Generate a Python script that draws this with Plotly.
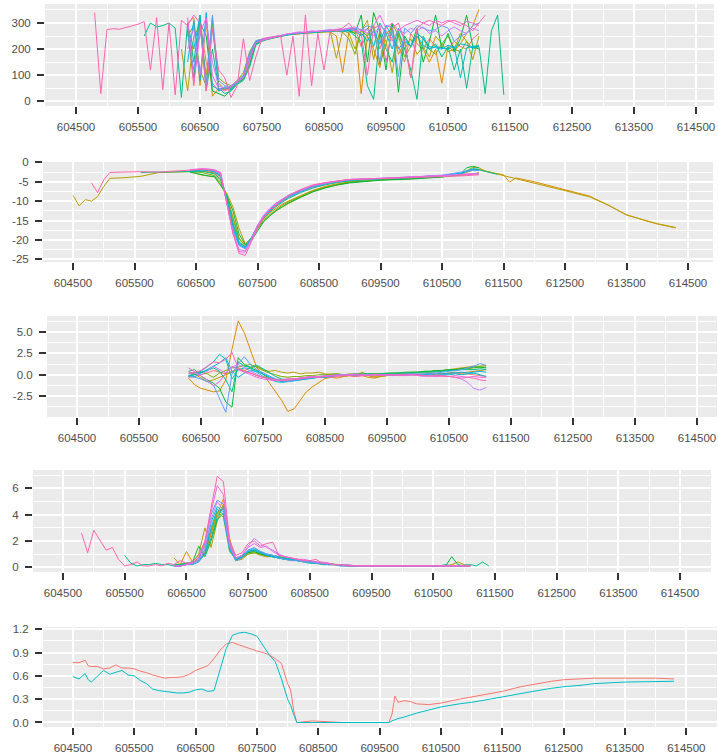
import plotly.graph_objects as go

W, H = 718, 755
HUE = ["#F8766D", "#DE8C00", "#B79F00", "#7CAE00", "#00BA38", "#00C08B",
       "#00BFC4", "#00B4F0", "#619CFF", "#C77CFF", "#F564E3", "#FF64B0"]

X_TICKS = [604500, 605500, 606500, 607500, 608500, 609500, 610500, 611500, 612500, 613500, 614500]
X_TICK_TEXT = ["604500", "605500", "606500", "607500", "608500", "609500", "610500",
               "611500", "612500", "613500", "614500"]
X_MINOR = [605000, 606000, 607000, 608000, 609000, 610000, 611000, 612000, 613000, 614000]

# ---------------- Panel 1 ----------------
P1_STEP = 100
P1_START = [606300, 606300, 606200, 606300, 606300, 605600, 606300, 606300, 606300, 606300, 606300, 604800]
P1_VALUES = [
    [280, 60, 310, 150, 70, 40, 55, 50, 70, 85, 150, 220, 232, 238, 243, 250, 254, 257, 262, 263,
     265, 268, 270, 272, 268, 270, 275, 280, 210, 260, 290, 200, 270, 240, 210, 150, 260, 220, 200, 240,
     210, 205, 200, 230, 210, 200, 240, 260],
    [300, 320, 60, 310, 20, 50, 45, 50, 70, 95, 170, 230, 236, 240, 246, 250, 255, 258, 258, 262,
     262, 265, 266, 265, 250, 110, 265, 270, 30, 250, 200, 130, 260, 280, 180, 230, 90, 250, 200, 150,
     200, 70, 210, 190, 220, 260, 290, 352],
    [200, 40, 250, 290, 100, 300, 70, 45, 55, 75, 100, 180, 228, 234, 240, 244, 250, 255, 258, 260,
     262, 266, 264, 268, 270, 165, 270, 262, 200, 270, 310, 160, 270, 230, 110, 260, 200, 240, 180, 210,
     170, 250, 220, 190, 200, 260, 230, 160, 250],
    [250, 290, 120, 60, 280, 90, 70, 60, 80, 110, 190, 232, 238, 242, 247, 252, 256, 259, 261, 263,
     265, 267, 266, 268, 270, 265, 240, 180, 270, 250, 290, 140, 220, 300, 250, 170, 210, 260, 240, 200,
     180, 220, 250, 200, 190, 230, 200, 210],
    [270, 90, 300, 250, 40, 30, 20, 45, 70, 85, 140, 220, 233, 240, 245, 250, 253, 257, 260, 261,
     263, 266, 267, 269, 270, 272, 270, 260, 330, 150, 340, 270, 120, 300, 35, 250, 210, 280, 150, 230,
     330, 200, 260, 190, 240, 330, 210, 200],
    [250, 300, 285, 290, 300, 280, 15, 300, 150, 330, 40, 200, 50, 30, 40, 65, 80, 130, 215, 230,
     238, 245, 250, 255, 258, 262, 262, 264, 266, 268, 268, 272, 270, 270, 250, 230, 60, 8, 260, 200,
     150, 270, 200, 120, 8, 250, 200, 220, 170, 210, 120, 200, 50, 210, 210, 30, 270, 330, 25],
    [290, 200, 330, 50, 320, 40, 50, 45, 70, 90, 165, 225, 235, 240, 246, 252, 255, 258, 262, 264,
     265, 266, 270, 268, 270, 272, 275, 270, 250, 280, 210, 300, 260, 200, 280, 240, 210, 250, 215, 200,
     210, 205, 200, 210, 90, 205, 210, 215],
    [150, 310, 80, 340, 60, 45, 55, 50, 75, 95, 175, 228, 236, 241, 246, 251, 256, 259, 261, 263,
     266, 267, 268, 270, 272, 268, 270, 275, 260, 230, 270, 220, 290, 250, 200, 230, 210, 260, 240, 210,
     205, 200, 215, 205, 220, 215, 205, 210],
    [260, 120, 290, 60, 330, 80, 60, 55, 80, 100, 185, 232, 238, 243, 248, 253, 257, 260, 263, 265,
     267, 268, 270, 272, 274, 276, 278, 280, 275, 290, 280, 150, 290, 285, 95, 280, 260, 290, 280, 270,
     275, 290, 280, 230, 250, 260, 290, 300],
    [200, 280, 100, 300, 150, 60, 50, 60, 78, 95, 170, 225, 234, 240, 245, 251, 256, 262, 266, 264,
     270, 268, 272, 275, 270, 272, 280, 285, 270, 275, 250, 290, 270, 230, 275, 260, 280, 270, 285, 260,
     270, 250, 270, 285, 270, 260, 280, 270],
    [320, 70, 260, 320, 100, 50, 40, 55, 75, 90, 160, 224, 234, 242, 247, 252, 258, 260, 262, 265,
     266, 268, 270, 270, 272, 274, 280, 270, 275, 260, 290, 330, 280, 300, 270, 290, 300, 310, 300, 290,
     310, 300, 310, 300, 290, 305, 300, 290],
    [340, 30, 275, 278, 276, 282, 288, 295, 305, 120, 320, 45, 300, 25, 310, 290, 330, 300, 40, 280,
     120, 90, 15, 60, 240, 80, 170, 240, 245, 248, 250, 100, 250, 20, 330, 60, 260, 120, 270, 275,
     280, 300, 270, 260, 100, 280, 290, 150, 280, 300, 230, 90, 280, 300, 310, 300, 290, 305, 310, 300,
     290, 270, 300, 330],
]
P1_Y_TICKS = [0, 100, 200, 300]
P1_Y_TEXT = ["0", "100", "200", "300"]
P1_Y_MINOR = [50, 150, 250, 350]

# ---------------- Panel 2 ----------------
P2_X = [604500, 604600, 604700, 604800, 604900, 605000, 605100, 605300, 605600, 605900,
        606200, 606400, 606600, 606700, 606800, 606900, 607000, 607100, 607200, 607300,
        607400, 607500, 607600, 607700, 607800, 607900, 608000, 608200, 608400, 608600,
        608800, 609000, 609500, 610000, 610500, 610800, 610900, 611000, 611100, 611200,
        611400, 611500, 611600, 611700, 612000, 612500, 612900, 613200, 613500, 613800,
        614000, 614300]
P2_START_IDX = [11, 11, 0, 11, 11, 8, 11, 11, 11, 11, 11, 3]
P2_VALUES = [
    [-2.2, -2.0, -2.2, -2.6, -4.0, -9.5, -16.5, -21.0, -22.2, -19.8, -16.7, -14.3, -12.6, -11.2,
     -10.1, -9.1, -7.6, -6.4, -5.6, -5.0, -4.6, -4.2, -3.9, -3.5, -3.2, -3.1, -2.9, -2.8],
    [-2.3, -2.2, -2.4, -2.8, -4.5, -8.5, -14.0, -19.5, -21.5, -19.8, -16.8, -14.6, -13.0, -11.8,
     -10.8, -10.0, -8.5, -7.2, -6.2, -5.5, -5.0, -4.5, -4.1, -3.5, -3.0, -2.6, -2.0, -1.8, -2.3,
     -3.0, -3.2, -5.1, -4.0, -5.0, -7.0, -8.7, -11.0, -13.5, -15.0, -15.9, -16.9],
    [-8.5, -11.2, -9.6, -10.0, -8.8, -6.2, -4.1, -4.0, -3.6, -2.6, -2.5, -2.4, -3.3, -3.5, -3.7,
     -6.0, -8.0, -11.5, -17.0, -21.0, -19.5, -17.0, -15.2, -13.8, -12.5, -11.5, -10.6, -9.0, -7.6,
     -6.5, -5.8, -5.2, -4.5, -4.2, -3.6, -3.2, -2.2, -1.3, -1.4, -2.2, -3.0, -3.5, -3.8, -4.2,
     -5.3, -7.3, -8.9, -11.0, -13.6, -15.0, -15.8, -16.8],
    [-2.4, -2.6, -3.0, -3.4, -5.2, -8.8, -14.5, -19.8, -21.5, -19.9, -17.2, -15.0, -13.5, -12.2,
     -11.1, -10.2, -8.7, -7.4, -6.4, -5.7, -5.1, -4.5, -4.2, -3.7, -3.4, -3.2, -2.9, -2.7],
    [-2.5, -3.2, -3.5, -3.7, -5.8, -8.5, -12.5, -18.5, -21.2, -20.2, -17.6, -15.3, -13.8, -12.5,
     -11.5, -10.5, -9.0, -7.6, -6.6, -5.8, -5.3, -4.6, -4.3, -3.8, -3.0, -1.4, -1.0, -1.4],
    [-2.6, -2.5, -2.4, -2.2, -2.3, -2.6, -3.0, -4.5, -9.0, -15.5, -20.5, -21.8, -19.6, -16.6,
     -14.4, -12.8, -11.4, -10.3, -9.3, -7.8, -6.6, -5.8, -5.2, -4.8, -4.3, -4.0, -3.5, -3.0,
     -2.2, -1.8, -1.9, -2.3, -3.1],
    [-2.2, -2.0, -2.1, -2.5, -3.6, -9.2, -16.0, -20.8, -21.8, -19.4, -16.3, -14.0, -12.4, -11.0,
     -9.9, -8.9, -7.4, -6.3, -5.5, -4.9, -4.5, -4.2, -3.9, -3.4, -2.9, -2.2, -1.6, -1.8],
    [-2.1, -1.9, -2.0, -2.4, -3.3, -10.0, -17.0, -21.2, -22.0, -19.6, -16.4, -14.1, -12.3, -10.9,
     -9.8, -8.8, -7.3, -6.2, -5.4, -4.9, -4.5, -4.2, -3.8, -3.4, -2.8, -2.4, -2.0, -2.1],
    [-2.0, -1.8, -1.9, -2.2, -3.0, -10.5, -17.5, -21.5, -22.3, -19.7, -16.6, -14.2, -12.4, -11.0,
     -9.9, -8.9, -7.5, -6.3, -5.5, -4.9, -4.5, -4.2, -3.8, -3.3, -2.6, -2.3, -2.0, -2.1],
    [-2.0, -1.7, -1.8, -2.1, -2.8, -10.8, -18.0, -22.5, -22.8, -19.8, -16.2, -13.6, -11.9, -10.5,
     -9.4, -8.5, -7.1, -6.0, -5.3, -4.8, -4.4, -4.1, -3.8, -3.4, -3.1, -3.0, -2.9, -2.8],
    [-1.9, -1.6, -1.7, -1.9, -2.6, -11.0, -18.5, -23.0, -23.2, -20.2, -16.5, -13.8, -12.0, -10.6,
     -9.5, -8.6, -7.2, -6.0, -5.3, -4.8, -4.4, -4.1, -3.8, -3.5, -3.3, -3.2, -3.1, -3.0],
    [-5.3, -7.8, -4.5, -2.6, -2.5, -2.4, -2.5, -2.3, -2.0, -1.8, -1.9, -2.0, -3.0, -10.5, -18.0,
     -23.5, -24.0, -20.5, -17.0, -14.2, -12.5, -11.0, -9.7, -8.5, -7.0, -5.8, -5.2, -4.8, -4.4,
     -4.2, -4.0, -3.8, -3.5, -3.4, -3.3, -3.2],
]
P2_Y_TICKS = [-25, -20, -15, -10, -5, 0]
P2_Y_TEXT = ["-25", "-20", "-15", "-10", "-5", "0"]
P2_Y_MINOR = [-22.5, -17.5, -12.5, -7.5, -2.5]

# ---------------- Panel 3 ----------------
P3_STEP = 100
P3_START = 606300
P3_VALUES = [
    [-0.3, -0.2, 0.0, 0.2, 0.5, 0.3, 0.1, 0.4, 0.7, 0.5, 0.2, -0.1, -0.3, -0.4, -0.5, -0.6, -0.5,
     -0.5, -0.4, -0.3, -0.2, -0.3, -0.2, -0.1, -0.1, -0.2, -0.1, 0.0, 0.0, -0.1, -0.2, -0.1, -0.1,
     0.0, 0.0, 0.0, 0.1, 0.0, 0.0, 0.1, 0.0, 0.1, 0.1, 0.2, 0.1, 0.1, 0.0, -0.1, -0.2],
    [-0.4, -1.2, -1.6, -1.8, -2.0, -1.9, -0.6, 3.0, 6.3, 4.9, 2.8, 0.8, 0.1, -0.9, -1.9, -3.0, -4.3,
     -4.0, -3.0, -2.0, -1.4, -0.9, -0.45, -0.3, -0.4, -0.2, -0.1, -0.2, -0.1, -0.3, -0.4, -0.2,
     -0.1, 0.0, -0.1, 0.0, 0.1, 0.0, 0.1, 0.1, 0.2, 0.1, 0.2, 0.3, 0.2, 0.3, 0.4, 0.5, 0.6],
    [0.2, 0.1, -0.4, -0.8, -0.6, -0.3, 0.0, 0.3, 0.6, 0.5, 0.8, 1.0, 0.6, 0.4, 0.5, 0.3, 0.2, 0.3,
     0.1, 0.2, 0.2, 0.3, 0.1, 0.0, 0.1, 0.0, -0.1, -0.2, 0.3, -0.1, -0.3, -0.2, -0.1, 0.0, 0.1,
     0.1, 0.2, 0.2, 0.3, 0.3, 0.4, 0.5, 0.6, 0.7, 0.8, 0.9, 1.0, 1.0, 1.1],
    [-0.2, 0.1, 0.3, 0.1, -0.3, 0.2, 0.5, 0.8, 0.9, 1.1, 1.2, 0.9, 0.5, 0.2, 0.0, -0.2, -0.3, -0.2,
     -0.2, -0.1, -0.1, 0.0, 0.0, 0.1, 0.1, 0.0, 0.1, 0.1, 0.2, 0.1, 0.1, 0.1, 0.1, 0.2, 0.2, 0.2,
     0.3, 0.3, 0.4, 0.4, 0.5, 0.5, 0.6, 0.6, 0.7, 0.7, 0.8, 0.9, 0.9],
    [0.4, 0.6, -0.2, -0.6, -1.0, -1.6, -3.2, -3.8, 2.0, 1.2, 0.8, 0.5, 0.0, -0.4, -0.6, -0.7, -0.6,
     -0.5, -0.4, -0.3, -0.3, -0.2, -0.2, -0.1, 0.0, 0.0, 0.0, 0.1, 0.0, 0.1, 0.1, 0.1, 0.2, 0.2,
     0.2, 0.3, 0.3, 0.3, 0.4, 0.4, 0.5, 0.5, 0.6, 0.6, 0.7, 0.8, 0.9, 0.9, 0.8],
    [-0.2, 0.0, 0.3, 0.5, 0.8, 0.4, -0.6, -2.0, 1.5, 1.0, 0.9, 1.1, 0.7, 0.2, -0.2, -0.5, -0.6,
     -0.6, -0.5, -0.4, -0.3, -0.2, -0.2, -0.1, 0.0, 0.0, 0.0, 0.0, 0.1, 0.1, 0.0, 0.1, 0.1, 0.1,
     0.2, 0.2, 0.2, 0.3, 0.3, 0.3, 0.4, 0.4, 0.5, 0.5, 0.6, 0.6, 0.6, 0.7, 0.6],
    [-0.1, 0.2, 0.4, 1.0, 1.5, 2.4, 1.8, -0.5, 0.6, 0.8, 0.7, 0.3, -0.2, -0.5, -0.8, -0.9, -0.8,
     -0.7, -0.6, -0.5, -0.4, -0.3, -0.3, -0.2, -0.1, -0.1, 0.0, 0.0, 0.0, 0.0, 0.0, 0.0, 0.0, -0.1,
     0.0, 0.0, 0.0, 0.0, 0.0, 0.0, -0.1, 0.0, 0.0, 0.1, 0.0, 0.1, 0.2, 0.0, -0.2],
    [-0.1, -0.2, 0.2, 0.6, 0.9, 1.4, 2.0, 0.4, -0.3, 0.2, 0.5, 0.4, 0.1, -0.3, -0.6, -0.8, -0.8,
     -0.7, -0.6, -0.5, -0.4, -0.3, -0.3, -0.2, -0.1, -0.1, 0.0, 0.0, 0.0, 0.0, 0.0, 0.0, 0.0, 0.0,
     0.0, 0.0, 0.0, 0.0, 0.0, 0.1, 0.1, 0.1, 0.2, 0.2, 0.3, 0.2, 0.3, 0.4, 0.3],
    [-0.2, -0.3, -0.5, -0.8, -1.2, -2.8, -4.4, 0.1, 1.3, 2.1, 1.2, 0.6, 0.2, -0.2, -0.5, -0.7,
     -0.8, -0.6, -0.5, -0.4, -0.3, -0.3, -0.2, -0.1, -0.1, 0.0, -0.1, 0.0, 0.0, 0.0, 0.0, 0.0,
     -0.1, 0.0, 0.0, 0.1, 0.1, 0.1, 0.1, 0.2, 0.2, 0.3, 0.4, 0.5, 0.6, 0.8, 1.0, 1.3, 1.1],
    [0.3, 0.2, 0.0, 0.4, 1.0, 0.6, 0.2, 0.9, 1.2, 0.8, 0.4, 0.0, -0.3, -0.5, -0.6, -0.7, -0.6,
     -0.5, -0.4, -0.3, -0.2, -0.2, -0.1, -0.1, 0.0, 0.0, 0.0, 0.1, 0.0, 0.0, 0.0, -0.1, 0.0, 0.0,
     -0.1, -0.1, 0.0, -0.1, -0.2, -0.1, -0.2, -0.1, -0.2, -0.3, -0.5, -0.9, -1.6, -1.8, -1.5],
    [0.8, 0.3, -0.2, -0.6, -1.3, -0.8, 0.2, 1.0, 0.6, 0.3, 0.0, -0.3, -0.5, -0.6, -0.7, -0.6, -0.5,
     -0.5, -0.4, -0.3, -0.3, -0.2, -0.2, -0.1, -0.1, -0.1, 0.0, 0.0, 0.0, -0.1, 0.0, 0.0, 0.0, 0.0,
     0.0, -0.1, 0.0, 0.0, -0.1, -0.1, -0.2, -0.1, -0.2, -0.1, -0.2, -0.3, -0.2, -0.3, -0.3],
    [0.1, 0.3, 0.5, 1.0, 1.5, 1.4, 1.8, 2.6, 0.8, 0.4, 0.2, -0.1, -0.3, -0.4, -0.6, -0.7, -0.6,
     -0.6, -0.5, -0.4, -0.3, -0.3, -0.2, -0.3, -0.2, -0.1, -0.1, -0.2, -0.1, -0.1, 0.0, -0.1, 0.0,
     -0.1, 0.0, 0.0, 0.0, -0.1, -0.1, -0.2, -0.1, -0.2, -0.2, -0.3, -0.4, -0.3, -0.4, -0.6, -0.7],
]
P3_Y_TICKS = [-2.5, 0, 2.5, 5]
P3_Y_TEXT = ["-2.5", "0.0", "2.5", "5.0"]
P3_Y_MINOR = [-3.75, -1.25, 1.25, 3.75, 6.25]

# ---------------- Panel 4 ----------------
P4_STEP = 100
P4_START = [606300, 606300, 606300, 606300, 606300, 605500, 606300, 606300, 606300, 606300, 606300, 604800]
P4_VALUES = [
    [0.1, 0.1, 0.2, 0.3, 0.5, 1.2, 2.6, 4.2, 4.4, 1.4, 0.6, 0.8, 1.2, 1.3, 1.1, 1.0, 0.9, 0.8, 0.7,
     0.6, 0.6, 0.5, 0.4, 0.4, 0.3, 0.3, 0.2, 0.2, 0.15, 0.1, 0.1, 0.1, 0.1, 0.05, 0.05, 0.05, 0.05,
     0.05, 0.05, 0.05, 0.05, 0.05, 0.1, 0.1, 0.1, 0.1, 0.1, 0.1, 0.1],
    [0.1, 0.2, 1.2, 0.4, 0.5, 1.0, 2.5, 4.0, 5.2, 2.2, 0.6, 0.7, 1.1, 1.2, 1.0, 0.8, 0.8, 0.7, 0.6,
     0.5, 0.6, 0.5, 0.4, 0.3, 0.3, 0.2, 0.2, 0.2, 0.1, 0.1, 0.1, 0.1, 0.1, 0.1, 0.05, 0.05, 0.05,
     0.05, 0.05, 0.1, 0.1, 0.05, 0.1, 0.1, 0.1, 0.15, 0.1, 0.1, 0.1],
    [0.7, 0.2, 0.3, 0.4, 1.0, 3.0, 1.5, 3.5, 4.8, 1.6, 0.5, 0.6, 1.0, 1.1, 0.9, 0.8, 0.9, 0.7, 0.6,
     0.6, 0.5, 0.5, 0.4, 0.3, 0.3, 0.2, 0.2, 0.2, 0.1, 0.1, 0.1, 0.1, 0.1, 0.05, 0.05, 0.05, 0.05,
     0.05, 0.05, 0.1, 0.1, 0.1, 0.1, 0.1, 0.1, 0.2, 0.4, 0.2, 0.1],
    [0.1, 0.2, 0.3, 0.2, 0.8, 1.6, 2.8, 4.2, 3.8, 1.2, 0.6, 0.7, 1.0, 1.1, 1.0, 0.9, 0.8, 0.8, 0.7,
     0.6, 0.5, 0.5, 0.4, 0.35, 0.3, 0.25, 0.2, 0.2, 0.15, 0.1, 0.1, 0.1, 0.1, 0.05, 0.05, 0.05,
     0.05, 0.05, 0.05, 0.05, 0.05, 0.05, 0.1, 0.1, 0.1, 0.1, 0.1, 0.1, 0.1],
    [0.2, 0.2, 0.3, 0.4, 1.6, 0.8, 2.0, 3.6, 4.1, 1.5, 0.6, 0.8, 1.1, 1.2, 1.0, 0.9, 0.8, 0.7, 0.7,
     0.6, 0.5, 0.5, 0.4, 0.3, 0.3, 0.25, 0.2, 0.2, 0.1, 0.1, 0.1, 0.1, 0.1, 0.05, 0.05, 0.05, 0.05,
     0.05, 0.1, 0.05, 0.1, 0.1, 0.1, 0.1, 0.1, 0.8, 0.2, 0.1, 0.1],
    [0.9, 0.3, 0.1, 0.2, 0.2, 0.3, 0.2, 0.2, 0.1, 0.2, 0.3, 0.4, 0.5, 1.0, 2.2, 3.8, 4.6, 1.8, 0.6,
     0.9, 1.2, 1.3, 1.1, 0.9, 0.8, 0.7, 0.6, 0.6, 0.5, 0.4, 0.3, 0.3, 0.2, 0.2, 0.2, 0.1, 0.1, 0.1,
     0.1, 0.05, 0.05, 0.05, 0.05, 0.05, 0.1, 0.05, 0.1, 0.1, 0.1, 0.1, 0.1, 0.1, 0.2, 0.1, 0.1,
     0.15, 0.2, 0.1, 0.4, 0.1],
    [0.1, 0.1, 0.2, 0.3, 0.5, 1.3, 3.4, 4.6, 4.2, 1.3, 0.6, 0.8, 1.3, 1.4, 1.2, 1.0, 0.9, 0.8, 0.7,
     0.6, 0.6, 0.5, 0.4, 0.4, 0.3, 0.3, 0.2, 0.2, 0.15, 0.1, 0.1, 0.1, 0.1, 0.05, 0.05, 0.05, 0.05,
     0.05, 0.05, 0.05, 0.05, 0.05, 0.1, 0.1, 0.1, 0.1, 0.1, 0.1, 0.1],
    [0.1, 0.1, 0.2, 0.2, 0.4, 1.0, 3.0, 4.4, 4.0, 1.4, 0.5, 0.7, 1.2, 1.3, 1.1, 0.9, 0.8, 0.7, 0.6,
     0.6, 0.5, 0.5, 0.4, 0.3, 0.3, 0.2, 0.2, 0.2, 0.1, 0.1, 0.1, 0.1, 0.05, 0.05, 0.05, 0.05, 0.05,
     0.05, 0.05, 0.05, 0.05, 0.1, 0.1, 0.1, 0.1, 0.1, 0.1, 0.1, 0.1],
    [0.1, 0.1, 0.2, 0.3, 0.6, 1.8, 4.0, 5.1, 4.8, 1.6, 0.5, 0.7, 1.3, 1.5, 1.2, 1.0, 0.9, 0.7, 0.6,
     0.5, 0.5, 0.4, 0.4, 0.3, 0.3, 0.2, 0.2, 0.1, 0.1, 0.1, 0.1, 0.1, 0.1, 0.05, 0.05, 0.05, 0.05,
     0.05, 0.05, 0.05, 0.05, 0.05, 0.1, 0.1, 0.1, 0.1, 0.1, 0.1, 0.1],
    [0.1, 0.1, 0.2, 0.3, 0.5, 1.4, 3.6, 5.0, 4.3, 1.6, 0.7, 0.9, 1.6, 2.2, 1.8, 1.5, 1.3, 1.0, 0.8,
     0.7, 0.6, 0.5, 0.5, 0.4, 0.3, 0.3, 0.2, 0.2, 0.15, 0.1, 0.1, 0.1, 0.1, 0.05, 0.05, 0.05, 0.05,
     0.05, 0.05, 0.05, 0.05, 0.1, 0.1, 0.1, 0.1, 0.1, 0.1, 0.1, 0.1],
    [0.1, 0.1, 0.2, 0.3, 0.7, 1.9, 4.2, 6.2, 5.5, 1.8, 0.7, 0.9, 1.5, 1.8, 1.5, 1.6, 1.2, 0.9, 0.8,
     0.7, 0.6, 0.6, 0.5, 0.4, 0.4, 0.3, 0.2, 0.2, 0.15, 0.1, 0.1, 0.1, 0.1, 0.05, 0.05, 0.05, 0.05,
     0.05, 0.05, 0.05, 0.05, 0.05, 0.1, 0.1, 0.1, 0.1, 0.1, 0.1, 0.1],
    [2.6, 1.1, 2.8, 2.0, 1.3, 1.5, 0.6, 0.1, 0.2, 0.4, 0.1, 0.1, 0.2, 0.1, 0.3,
     0.2, 0.5, 0.3, 0.4, 0.9, 2.0, 4.5, 6.9, 6.5, 2.0, 0.9, 1.1, 1.8, 2.0, 1.6, 1.8, 1.9, 0.9, 0.8,
     0.7, 0.6, 0.5, 0.5, 0.6, 0.3, 0.3, 0.2, 0.2, 0.1, 0.1, 0.1, 0.1, 0.1, 0.1, 0.1, 0.1, 0.1, 0.1,
     0.1, 0.1, 0.1, 0.1, 0.1, 0.1, 0.1, 0.1, 0.1, 0.1, 0.1],
]
P4_Y_TICKS = [0, 2, 4, 6]
P4_Y_TEXT = ["0", "2", "4", "6"]
P4_Y_MINOR = [1, 3, 5, 7]

# ---------------- Panel 5 ----------------
P5_X = [604500, 604600, 604700, 604750, 604800, 604900, 605000, 605100, 605200, 605300,
        605400, 605500, 605600, 605700, 605800, 605900, 606000, 606100, 606200, 606300,
        606400, 606500, 606600, 606700, 606800, 606900, 607000, 607100, 607200, 607300,
        607400, 607500, 607600, 607700, 607800, 607900, 608000, 608050, 608100, 608150,
        608400, 608900, 609400, 609650, 609700, 609750, 609800, 609900, 610000, 610100,
        610300, 610500, 610800, 611000, 611300, 611500, 611800, 612000, 612300, 612500,
        612800, 613000, 613500, 614000, 614300]
P5_SALMON = [0.77, 0.77, 0.80, 0.73, 0.72, 0.72, 0.69, 0.70, 0.74, 0.70,
             0.70, 0.69, 0.66, 0.64, 0.61, 0.59, 0.57, 0.58, 0.58, 0.59,
             0.62, 0.67, 0.70, 0.73, 0.82, 0.93, 1.01, 1.03, 1.00, 0.97,
             0.94, 0.92, 0.90, 0.87, 0.82, 0.76, 0.50, 0.42, 0.15, 0.0,
             0.02, 0.0, 0.0, 0.0, 0.10, 0.34, 0.26, 0.28, 0.27, 0.24,
             0.23, 0.25, 0.30, 0.33, 0.37, 0.40, 0.46, 0.49, 0.53, 0.55,
             0.56, 0.57, 0.57, 0.57, 0.56]
P5_TEAL = [0.59, 0.56, 0.63, 0.55, 0.52, 0.60, 0.67, 0.62, 0.64, 0.67,
           0.61, 0.60, 0.54, 0.50, 0.43, 0.41, 0.40, 0.39, 0.38, 0.38,
           0.39, 0.42, 0.43, 0.40, 0.41, 0.68, 0.95, 1.12, 1.15, 1.16,
           1.14, 1.11, 0.99, 0.87, 0.78, 0.56, 0.30, 0.22, 0.10, 0.0,
           0.0, 0.0, 0.0, 0.0, 0.02, 0.04, 0.05, 0.07, 0.10, 0.12,
           0.16, 0.20, 0.24, 0.26, 0.30, 0.33, 0.37, 0.40, 0.44, 0.46,
           0.48, 0.50, 0.52, 0.53, 0.53]
P5_COLORS = ["#F8766D", "#00BFC4"]
P5_Y_TICKS = [0, 0.3, 0.6, 0.9, 1.2]
P5_Y_TEXT = ["0.0", "0.3", "0.6", "0.9", "1.2"]
P5_Y_MINOR = [0.15, 0.45, 0.75, 1.05]

# ---------------- layout geometry (pixels) ----------------
# (left, right, top, bottom, x-range, y-range)
GEOM = [
    (45, 714, 4, 106, [604000, 614790], [-17.5, 372.5]),
    (43, 713, 162, 262, [604012, 614906], [-25.7, 0.1]),
    (47, 717, 316, 417, [604016, 614823], [-4.95, 6.88]),
    (33, 711, 470, 572, [604014, 615002], [-0.36, 7.38]),
    (43, 717, 627, 727, [604013, 615000], [-0.058, 1.228]),
]
Y_TICKS = [(P1_Y_TICKS, P1_Y_TEXT, P1_Y_MINOR), (P2_Y_TICKS, P2_Y_TEXT, P2_Y_MINOR),
           (P3_Y_TICKS, P3_Y_TEXT, P3_Y_MINOR), (P4_Y_TICKS, P4_Y_TEXT, P4_Y_MINOR),
           (P5_Y_TICKS, P5_Y_TEXT, P5_Y_MINOR)]

FONT = dict(family="Liberation Sans, Arial, sans-serif", size=11.5, color="#4D4D4D")
LW = 1.0

fig = go.Figure()


def add_line(k, xs, ys, color):
    suffix = "" if k == 0 else str(k + 1)
    fig.add_trace(go.Scatter(x=xs, y=ys, mode="lines", line=dict(color=color, width=LW),
                             xaxis="x" + suffix, yaxis="y" + suffix, hoverinfo="skip",
                             showlegend=False))


for i, vals in enumerate(P1_VALUES):
    xs = [P1_START[i] + j * P1_STEP for j in range(len(vals))]
    add_line(0, xs, vals, HUE[i])
for i, vals in enumerate(P2_VALUES):
    s = P2_START_IDX[i]
    xs = P2_X[s:s + len(vals)]
    add_line(1, xs, vals[:len(xs)], HUE[i])
for i, vals in enumerate(P3_VALUES):
    xs = [P3_START + j * P3_STEP for j in range(len(vals))]
    add_line(2, xs, vals, HUE[i])
for i, vals in enumerate(P4_VALUES):
    xs = [P4_START[i] + j * P4_STEP for j in range(len(vals))]
    add_line(3, xs, vals, HUE[i])
add_line(4, P5_X, P5_SALMON, P5_COLORS[0])
add_line(4, P5_X, P5_TEAL, P5_COLORS[1])

layout = dict(width=W, height=H, margin=dict(l=0, r=0, t=0, b=0, pad=0, autoexpand=False),
              paper_bgcolor="white", plot_bgcolor="#EBEBEB", showlegend=False)

for k, (l, r, t, b, xr, yr) in enumerate(GEOM):
    suffix = "" if k == 0 else str(k + 1)
    yt, ytxt, ymin = Y_TICKS[k]
    layout["xaxis" + suffix] = dict(
        domain=[l / W, r / W], range=xr, anchor="y" + suffix,
        tickmode="array", tickvals=X_TICKS, ticktext=X_TICK_TEXT,
        ticks="outside", ticklen=7, tickwidth=2, tickcolor="#333333",
        showgrid=True, gridcolor="white", gridwidth=2,
        minor=dict(tickmode="array", tickvals=X_MINOR, showgrid=True, gridcolor="white",
                   gridwidth=1, ticks=""),
        zeroline=False, showline=False, tickfont=FONT, ticklabelstandoff=3,
        automargin=False, fixedrange=True)
    layout["yaxis" + suffix] = dict(
        domain=[1 - b / H, 1 - t / H], range=yr, anchor="x" + suffix,
        tickmode="array", tickvals=yt, ticktext=ytxt,
        ticks="outside", ticklen=7, tickwidth=2, tickcolor="#333333",
        showgrid=True, gridcolor="white", gridwidth=2,
        minor=dict(tickmode="array", tickvals=ymin, showgrid=True, gridcolor="white",
                   gridwidth=1, ticks=""),
        zeroline=False, showline=False, tickfont=FONT, ticklabelstandoff=4,
        automargin=False, fixedrange=True)

fig.update_layout(**layout)
fig.write_html("out.html", config={"displayModeBar": False},
               post_script="document.body.style.margin='0px';document.body.style.overflow='hidden';")
